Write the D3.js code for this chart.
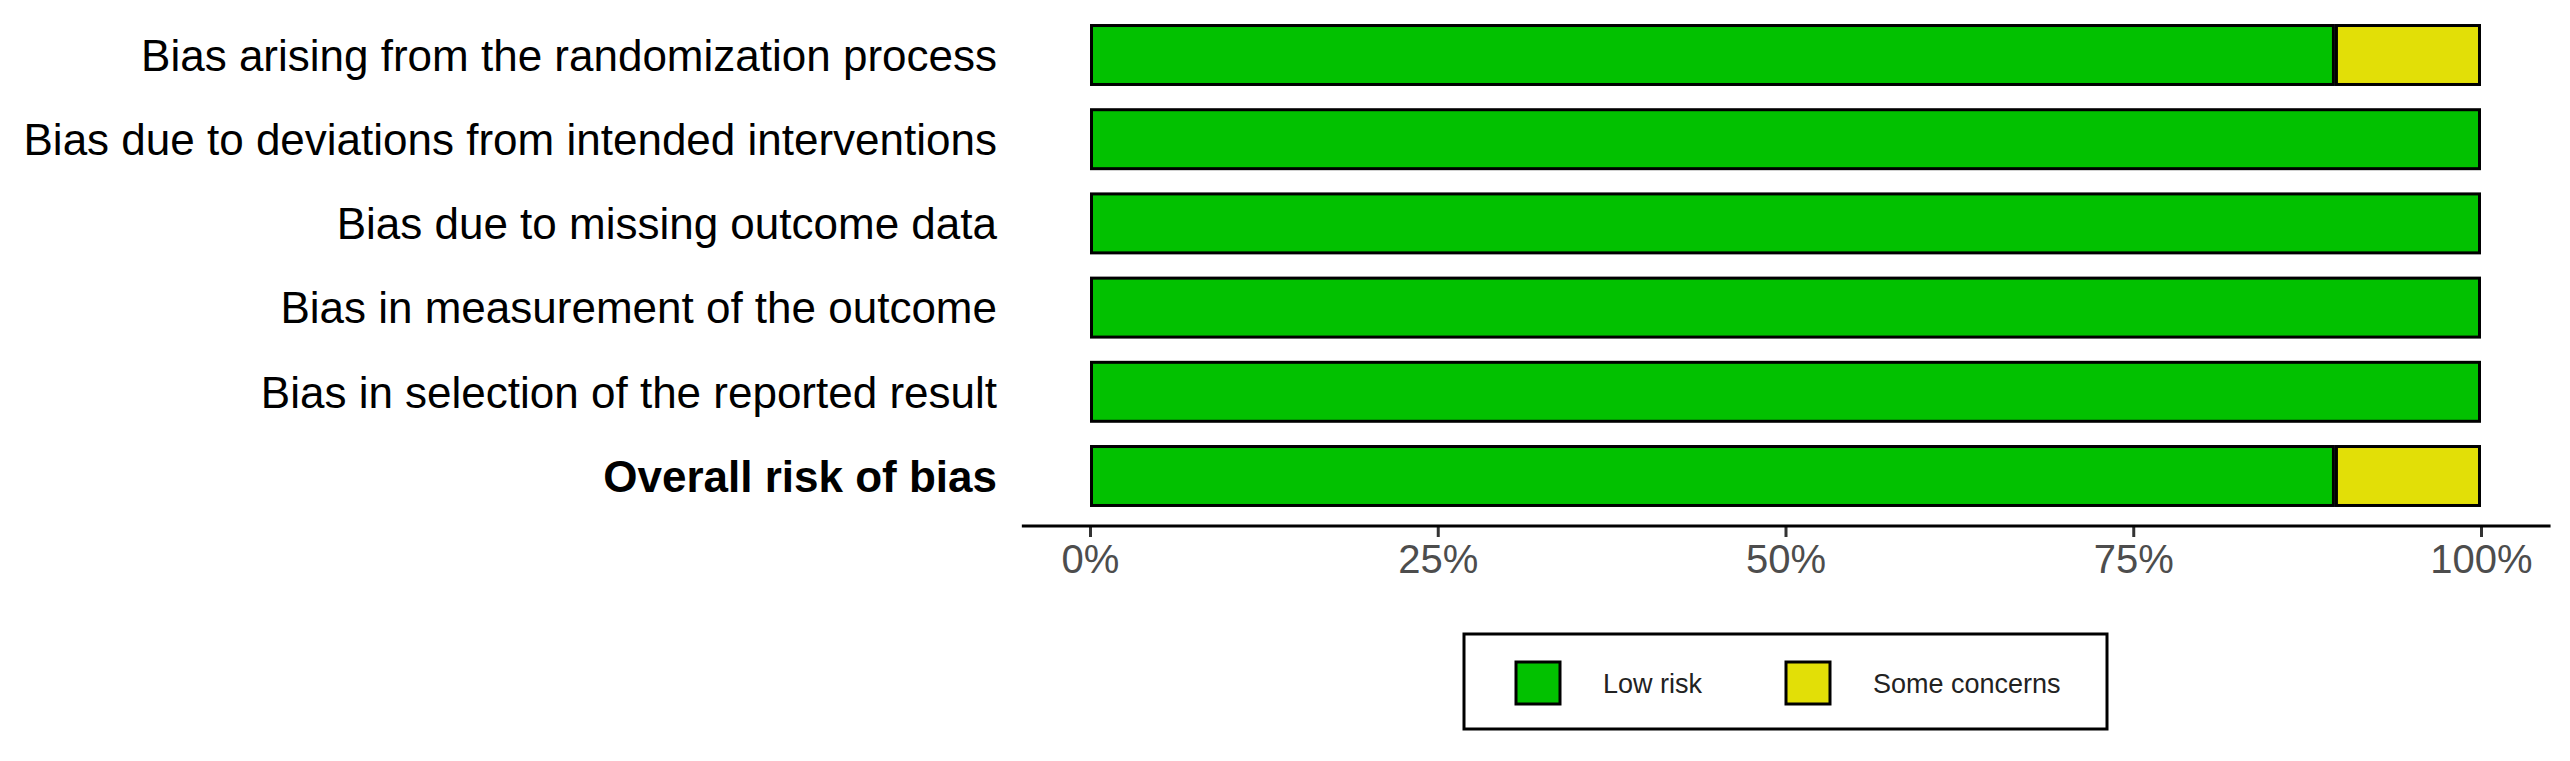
<!DOCTYPE html>
<html>
<head>
<meta charset="utf-8">
<script src="https://cdn.jsdelivr.net/npm/d3@7"></script>
<style>
  html, body { margin: 0; padding: 0; background: #fff; }
  svg { display: block; font-family: "Liberation Sans", Arial, Helvetica, sans-serif; }
</style>
</head>
<body>
<svg id="chart" width="2570" height="761"></svg>
<script>
// ---- data ----
const domains = [
  "Bias arising from the randomization process",
  "Bias due to deviations from intended interventions",
  "Bias due to missing outcome data",
  "Bias in measurement of the outcome",
  "Bias in selection of the reported result",
  "Overall risk of bias"
];
const lowRisk      = [89.5, 100, 100, 100, 100, 89.5];
const someConcerns = [10.5,   0,   0,   0,   0, 10.5];
const judgements = ["Low risk", "Some concerns"];
const judgementColors = ["#02C100", "#E2DF07"];
const tickValues = [0, 25, 50, 75, 100];
const tickLabels = ["0%", "25%", "50%", "75%", "100%"];

// ---- layout ----
const svg = d3.select("#chart");
const x = d3.scaleLinear().domain([0, 100]).range([1090, 2481]);
const y = d3.scaleBand().domain(domains).range([12.9, 518.1])
  .paddingInner(0.264).paddingOuter(0.132);
const color = d3.scaleOrdinal().domain(judgements).range(judgementColors);

// stacked data
const rows = domains.map((d, i) => ({ domain: d, "Low risk": lowRisk[i], "Some concerns": someConcerns[i] }));
const stacked = d3.stack().keys(judgements)(rows);

const sw = 3;
svg.append("g").selectAll("g").data(stacked).join("g")
  .attr("fill", s => color(s.key))
  .selectAll("rect").data(s => s.filter(d => d[1] - d[0] > 0)).join("rect")
  .attr("x", d => x(d[0]) + sw / 2)
  .attr("y", d => y(d.data.domain) + sw / 2)
  .attr("width", d => x(d[1]) - x(d[0]) - sw)
  .attr("height", y.bandwidth() - sw)
  .attr("stroke", "#000")
  .attr("stroke-width", sw);

// category labels
svg.append("g").selectAll("text").data(domains).join("text")
  .attr("x", 997)
  .attr("y", d => y(d) + y.bandwidth() / 2)
  .attr("dy", "0.36em")
  .attr("text-anchor", "end")
  .attr("font-size", 44)
  .attr("font-weight", (d, i) => i === domains.length - 1 ? "bold" : "normal")
  .attr("fill", "#000")
  .text(d => d);

// x axis
const axisY = 526;
const xAxis = d3.axisBottom(x).tickValues(tickValues)
  .tickFormat((d, i) => tickLabels[i]).tickSize(11).tickPadding(8);
const gx = svg.append("g").attr("transform", `translate(0,${axisY})`).call(xAxis);
gx.select(".domain").remove();
gx.append("line")
  .attr("x1", x(-4.9)).attr("x2", x(105))
  .attr("y1", 0).attr("y2", 0)
  .attr("stroke", "#000").attr("stroke-width", 3);
gx.selectAll(".tick line").attr("stroke", "#333").attr("stroke-width", 3);
gx.selectAll(".tick text").attr("fill", "#4D4D4D").attr("font-size", 40)
  .attr("font-family", "Liberation Sans, Arial, sans-serif");

// legend
const lg = svg.append("g");
lg.append("rect").attr("x", 1464).attr("y", 634).attr("width", 643).attr("height", 95)
  .attr("fill", "#fff").attr("stroke", "#000").attr("stroke-width", 3);
const keyX = [1516, 1786];
const textX = [1603, 1873];
judgements.forEach((j, i) => {
  lg.append("rect").attr("x", keyX[i]).attr("y", 662).attr("width", 44).attr("height", 42)
    .attr("fill", color(j)).attr("stroke", "#000").attr("stroke-width", 3);
  lg.append("text").attr("x", textX[i]).attr("y", 683).attr("dy", "0.36em")
    .attr("font-size", 27).attr("fill", "#222").text(j);
});
</script>
</body>
</html>
